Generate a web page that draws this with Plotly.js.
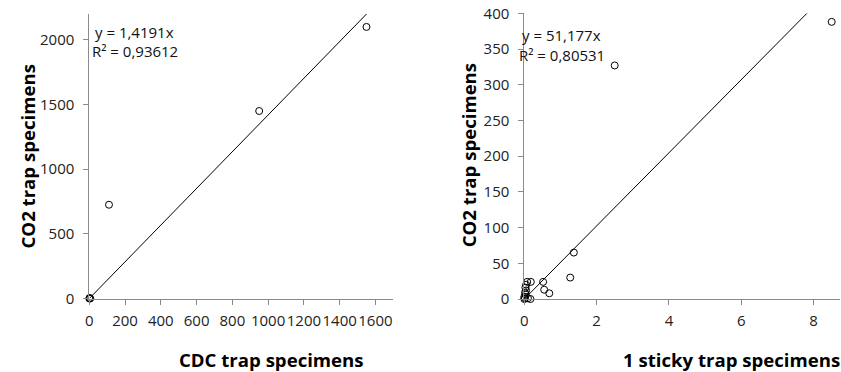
<!DOCTYPE html>
<html>
<head>
<meta charset="utf-8">
<script src="https://cdn.plot.ly/plotly-3.0.1.min.js"></script>
<style>html,body{margin:0;padding:0;background:#fff;}#chart{width:841px;height:372px;}</style>
</head>
<body>
<div id="chart"></div>
<script>
// ---- Data ----
const cdcSpecimens   = [0, 2, 5, 110, 950, 1550];
const co2LeftSpecimens = [0, 4, 0, 725, 1450, 2100];
const leftSlope = 1.4191;
const leftEquation = "y = 1,4191x";
const leftR2 = "R² = 0,93612";

const stickySpecimens = [8.5, 2.5, 1.37, 1.27, 0.52, 0.55, 0.69, 0.18, 0.08, 0.05, 0.03, 0.05, 0.02, 0.04, 0.0, 0.02, 0.1, 0.17, 0.0];
const co2RightSpecimens = [388, 327, 65, 30, 24, 13, 8, 24, 24, 20, 16, 12, 9, 6, 3, 1, 1, 0, 0];
const rightSlope = 51.177;
const rightEquation = "y = 51,177x";
const rightR2 = "R² = 0,80531";

const leftXTicks = [0, 200, 400, 600, 800, 1000, 1200, 1400, 1600];
const leftYTicks = [0, 500, 1000, 1500, 2000];
const rightXTicks = [0, 2, 4, 6, 8];
const rightYTicks = [0, 50, 100, 150, 200, 250, 300, 350, 400];

// ---- Layout helpers ----
const W = 841, H = 372;
const px = x => x / W;
const py = y => 1 - y / H;
const leftXRange = [0, 1700], leftYRange = [0, 2200];
const rightXRange = [0, 8.73], rightYRange = [0, 400];

const tickFont = {family: "Open Sans, sans-serif", size: 15, color: "#222"};
const titleFont = {family: "Open Sans, sans-serif", size: 18.6, color: "#000", weight: "bold"};
const eqFont = {family: "Open Sans, sans-serif", size: 15, color: "#111"};

const markerStyle = {symbol: "circle-open", size: 7, color: "#000", line: {width: 1, color: "#000"}};

const traces = [
  {x: cdcSpecimens, y: co2LeftSpecimens, xaxis: "x", yaxis: "y", mode: "markers", type: "scatter", marker: markerStyle, cliponaxis: false},
  {x: [0, leftYRange[1] / leftSlope], y: [0, leftYRange[1]], xaxis: "x", yaxis: "y", mode: "lines", type: "scatter", line: {color: "#000", width: 1}},
  {x: stickySpecimens, y: co2RightSpecimens, xaxis: "x2", yaxis: "y2", mode: "markers", type: "scatter", marker: markerStyle, cliponaxis: false},
  {x: [0, rightYRange[1] / rightSlope], y: [0, rightYRange[1]], xaxis: "x2", yaxis: "y2", mode: "lines", type: "scatter", line: {color: "#000", width: 1}}
];

const axisCommon = {
  showgrid: false, zeroline: false, showline: true, linecolor: "#8a8a8a", linewidth: 1,
  ticks: "outside", ticklen: 5, tickcolor: "#8a8a8a", tickwidth: 1,
  tickfont: tickFont, tickangle: 0, tickmode: "array", fixedrange: true
};
const xAxisExtra = {ticklabelstandoff: 3};
const yAxisExtra = {ticklabelstandoff: 6};

const layout = {
  width: W, height: H,
  margin: {l: 0, r: 0, t: 0, b: 0},
  paper_bgcolor: "#fff", plot_bgcolor: "#fff",
  showlegend: false,
  xaxis: Object.assign({}, axisCommon, xAxisExtra, {domain: [px(89.3), px(393.3)], range: leftXRange, tickvals: leftXTicks, anchor: "y"}),
  yaxis: Object.assign({}, axisCommon, yAxisExtra, {domain: [py(298.5), py(14)], range: leftYRange, tickvals: leftYTicks, anchor: "x"}),
  xaxis2: Object.assign({}, axisCommon, xAxisExtra, {domain: [px(524.3), px(840)], range: rightXRange, tickvals: rightXTicks, anchor: "y2"}),
  yaxis2: Object.assign({}, axisCommon, yAxisExtra, {domain: [py(299), py(13.3)], range: rightYRange, tickvals: rightYTicks, anchor: "x2"}),
  annotations: [
    {text: "CDC trap specimens", xref: "paper", yref: "paper", x: px(271.5), y: py(359), xanchor: "center", yanchor: "middle", showarrow: false, font: titleFont},
    {text: "1 sticky trap specimens", xref: "paper", yref: "paper", x: px(731), y: py(359), xanchor: "center", yanchor: "middle", showarrow: false, font: titleFont},
    {text: "CO2 trap specimens", xref: "paper", yref: "paper", x: px(27), y: py(156.5), xanchor: "center", yanchor: "middle", textangle: -90, showarrow: false, font: titleFont},
    {text: "CO2 trap specimens", xref: "paper", yref: "paper", x: px(468.3), y: py(155), xanchor: "center", yanchor: "middle", textangle: -90, showarrow: false, font: titleFont},
    {text: leftEquation, xref: "paper", yref: "paper", x: px(93), y: py(32), xanchor: "left", yanchor: "middle", showarrow: false, font: eqFont},
    {text: leftR2, xref: "paper", yref: "paper", x: px(89.5), y: py(51.5), xanchor: "left", yanchor: "middle", showarrow: false, font: eqFont},
    {text: rightEquation, xref: "paper", yref: "paper", x: px(520), y: py(35), xanchor: "left", yanchor: "middle", showarrow: false, font: eqFont},
    {text: rightR2, xref: "paper", yref: "paper", x: px(516.5), y: py(55), xanchor: "left", yanchor: "middle", showarrow: false, font: eqFont}
  ]
};

Plotly.newPlot("chart", traces, layout, {staticPlot: true, displayModeBar: false});
</script>
</body>
</html>
